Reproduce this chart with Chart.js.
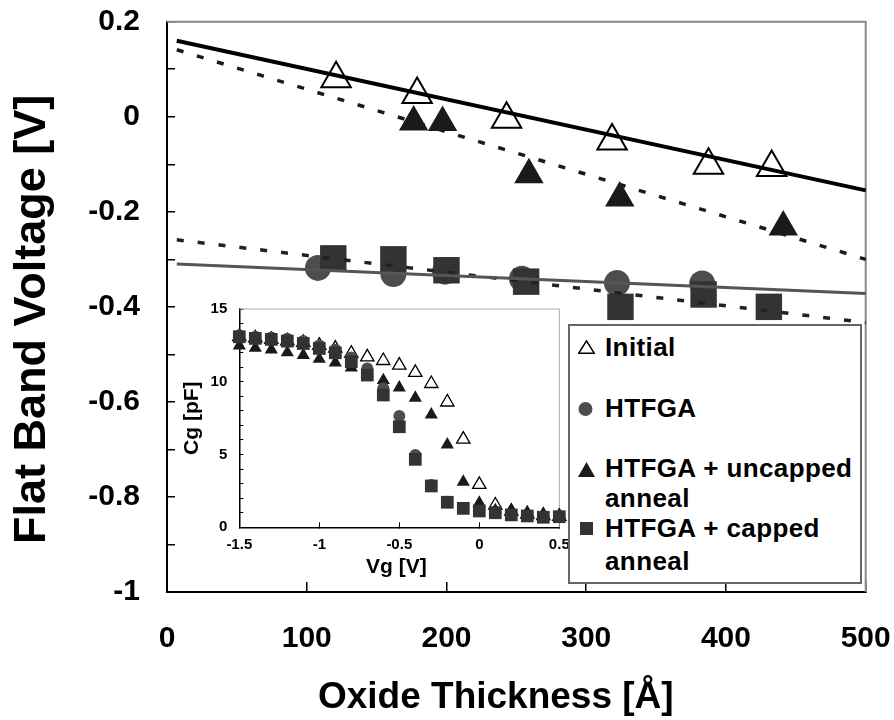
<!DOCTYPE html>
<html>
<head>
<meta charset="utf-8">
<script src="https://cdn.jsdelivr.net/npm/chart.js@4.4.1/dist/chart.umd.min.js"></script>
<style>
html,body{margin:0;padding:0;background:#fff;}
#wrap{position:relative;width:894px;height:720px;overflow:hidden;font-family:"Liberation Sans",Arial,sans-serif;}
#main{position:absolute;left:0;top:0;}
#inset{position:absolute;left:175px;top:295px;}
#legend{position:absolute;left:568px;top:324px;width:290px;height:256px;border:2px solid #666;background:#fff;}
.lt{position:absolute;left:35px;font-weight:bold;font-size:26px;line-height:26px;white-space:nowrap;color:#000;letter-spacing:0.4px;}
.ls{position:absolute;display:block;}
</style>
</head>
<body>
<div id="wrap">
  <canvas id="main" width="894" height="720"></canvas>
  <canvas id="inset" width="395" height="295"></canvas>
  <div id="legend">
    <svg class="ls" style="left:8px;top:14px" width="17" height="14"><polygon points="8.5,0.8 16.2,13.2 0.8,13.2" fill="#fff" stroke="#000" stroke-width="1.5"/></svg>
    <div class="lt" style="top:8px">Initial</div>
    <svg class="ls" style="left:8px;top:76px" width="15" height="14"><circle cx="7.5" cy="7" r="7" fill="#4d4d4d"/></svg>
    <div class="lt" style="top:68.7px">HTFGA</div>
    <svg class="ls" style="left:8px;top:135.7px" width="17" height="15"><polygon points="8.5,0 17,15 0,15" fill="#1a1a1a"/></svg>
    <div class="lt" style="top:128.7px">HTFGA + uncapped</div>
    <div class="lt" style="top:158.7px">anneal</div>
    <svg class="ls" style="left:10px;top:195.5px" width="13" height="13"><rect x="0" y="0" width="13" height="13" fill="#333"/></svg>
    <div class="lt" style="top:188.7px">HTFGA + capped</div>
    <div class="lt" style="top:222px">anneal</div>
  </div>
</div>
<script>
// ---------- main chart data (Oxide thickness [Å] vs flat band voltage [V]) ----------
const thkInitial   = [121, 179, 243, 318.5, 387.5, 432.7];
const vfbInitial   = [0.080, 0.047, -0.005, -0.051, -0.102, -0.107];
const thkUncapped  = [176.5, 197.2, 259, 324, 441];
const vfbUncapped  = [-0.011, -0.012, -0.122, -0.171, -0.232];
const thkHTFGA     = [108, 162, 199, 254, 322, 383];
const vfbHTFGA     = [-0.318, -0.331, -0.326, -0.341, -0.350, -0.351];
const thkCapped    = [119, 162, 200, 257, 324.5, 384, 430.7];
const vfbCapped    = [-0.298, -0.300, -0.323, -0.347, -0.400, -0.374, -0.400];
// trend lines (end points)
const fitInitialX  = [7, 500];
const fitInitialY  = [0.160, -0.155];
const fitUncappedX = [7, 500];
const fitUncappedY = [0.141, -0.300];
const fitHTFGAX    = [7, 500];
const fitHTFGAY    = [-0.310, -0.372];
const fitCappedX   = [7, 500];
const fitCappedY   = [-0.259, -0.433];
const yTickValues  = [0.2, 0, -0.2, -0.4, -0.6, -0.8, -1];
const yTickLabels  = ['0.2', '0', '-0.2', '-0.4', '-0.6', '-0.8', '-1'];

// ---------- inset data (C-V curves) ----------
const vg          = [-1.5, -1.4, -1.3, -1.2, -1.1, -1.0, -0.9, -0.8, -0.7, -0.6, -0.5, -0.4, -0.3, -0.2, -0.1, 0, 0.1, 0.2, 0.3, 0.4, 0.5];
const cgInitial   = [13.1, 13.0, 12.9, 12.8, 12.7, 12.5, 12.3, 11.95, 11.7, 11.45, 11.13, 10.63, 9.87, 8.6, 6.05, 2.94, 1.52, 1.1, 0.9, 0.8, 0.75];
const cgUncapped  = [12.48, 12.32, 12.21, 12.01, 11.83, 11.56, 11.31, 10.97, 10.56, 10.1, 9.6, 8.89, 7.74, 5.68, 3.12, 1.68, 1.17, 1.13, 1.02, 0.92, 0.82];
const cgHTFGA     = [13.2, 13.1, 13.05, 12.95, 12.8, 12.5, 12.2, 11.67, 10.92, 9.55, 7.64, 4.97, 2.9, 1.75, 1.32, 1.13, 1.0, 0.86, 0.78, 0.7, 0.74];
const cgCapped    = [13.09, 12.98, 12.91, 12.79, 12.63, 12.29, 11.99, 11.38, 10.46, 9.09, 6.91, 4.67, 2.84, 1.72, 1.30, 1.12, 1.0, 0.85, 0.78, 0.69, 0.73];
const cgTickValues = [0, 5, 10, 15];
const cgTickLabels = ['0', '5', '10', '15'];
const vgTickValues = [-1.5, -1, -0.5, 0, 0.5];
const vgTickLabels = ['-1.5', '-1', '-0.5', '0', '0.5'];

const FONT = "'Liberation Sans', Arial, Helvetica, sans-serif";
const pts = (xs, ys) => xs.map((x, i) => ({x: x, y: ys[i]}));
const pick = (vals, labels) => v => {
  const i = vals.findIndex(t => Math.abs(t - v) < 1e-6);
  return i >= 0 ? labels[i] : '';
};

const framePlugin = {
  id: 'frame',
  beforeDatasetsDraw(chart, args, opts) {
    const a = chart.chartArea, ctx = chart.ctx;
    ctx.save();
    ctx.strokeStyle = opts.color || '#888';
    ctx.lineWidth = opts.width || 1.5;
    ctx.beginPath();
    ctx.moveTo(a.left, a.top);
    ctx.lineTo(a.right, a.top);
    ctx.lineTo(a.right, a.bottom);
    ctx.stroke();
    ctx.restore();
  }
};

function lineDs(xs, ys, color, width, dash, order) {
  return {data: pts(xs, ys), showLine: true, borderColor: color, borderWidth: width,
          borderDash: dash, pointRadius: 0, pointHoverRadius: 0, order: order, clip: false, fill: false};
}
function markDs(xs, ys, style, r, bg, bc, bw, order) {
  return {data: pts(xs, ys), showLine: false, pointStyle: style, pointRadius: r, pointHoverRadius: r,
          pointBackgroundColor: bg, pointBorderColor: bc, pointBorderWidth: bw,
          backgroundColor: bg, borderColor: bc, borderWidth: bw, order: order, clip: false};
}
function fixX(h) { return s => { s.height = h; s.paddingLeft = 0; s.paddingRight = 0; }; }
function fixY(w) { return s => { s.width = w; s.paddingTop = 0; s.paddingBottom = 0; }; }

new Chart(document.getElementById('main'), {
  type: 'scatter',
  data: {
    datasets: [
      lineDs(fitInitialX, fitInitialY, '#000', 4, [], 0),
      lineDs(fitUncappedX, fitUncappedY, '#1a1a1a', 3.5, [7, 14], 1),
      lineDs(fitHTFGAX, fitHTFGAY, '#555', 3, [], 2),
      lineDs(fitCappedX, fitCappedY, '#222', 3.5, [7, 14], 3),
      markDs(thkCapped, vfbCapped, 'rect', 18.7, '#333', '#333', 0, 4),
      markDs(thkHTFGA, vfbHTFGA, 'circle', 13, '#4d4d4d', '#4d4d4d', 0, 5),
      markDs(thkUncapped, vfbUncapped, 'triangle', 17, '#1a1a1a', '#1a1a1a', 0, 6),
      markDs(thkInitial, vfbInitial, 'triangle', 17, '#fff', '#000', 2, 7)
    ]
  },
  options: {
    responsive: false, animation: false, events: [],
    layout: {padding: {left: 0, right: 28.3, top: 21.7, bottom: 0}},
    plugins: {legend: {display: false}, tooltip: {enabled: false}, frame: {color: '#888', width: 2}},
    scales: {
      x: {
        type: 'linear', min: 0, max: 500,
        ticks: {stepSize: 100, color: '#000', font: {family: FONT, size: 30, weight: 'bold'}, padding: 39, maxRotation: 0, autoSkip: false},
        grid: {drawOnChartArea: false, drawTicks: true, tickLength: -10, color: '#000', lineWidth: 1.5},
        border: {display: true, color: '#000', width: 2},
        title: {display: true, text: 'Oxide Thickness [Å]\u00a0\u00a0\u00a0\u00a0', color: '#000', font: {family: FONT, size: 37, weight: 'bold'}, padding: {top: 0, bottom: 0}},
        afterFit: fixX(128)
      },
      y: {
        type: 'linear', min: -1, max: 0.2,
        ticks: {stepSize: 0.1, autoSkip: false, color: '#000', font: {family: FONT, size: 30, weight: 'bold'}, padding: 35,
          callback: pick(yTickValues, yTickLabels)},
        grid: {drawOnChartArea: false, drawTicks: true, tickLength: -8, color: '#000', lineWidth: 1.5},
        border: {display: true, color: '#000', width: 2},
        title: {display: true, text: 'Flat Band Voltage [V]\u00a0\u00a0', color: '#000', font: {family: FONT, size: 45, weight: 'bold'}, padding: {top: 6, bottom: 0}},
        afterFit: fixY(167)
      }
    }
  },
  plugins: [framePlugin]
});

new Chart(document.getElementById('inset'), {
  type: 'scatter',
  data: {
    datasets: [
      markDs(vg, cgCapped, 'rect', 9, '#333', '#333', 0, 0),
      markDs(vg, cgHTFGA, 'circle', 6, '#4d4d4d', '#4d4d4d', 0, 1),
      markDs(vg, cgUncapped, 'triangle', 7.6, '#1a1a1a', '#1a1a1a', 0, 2),
      markDs(vg, cgInitial, 'triangle', 7.7, '#fff', '#000', 1.3, 3)
    ]
  },
  options: {
    responsive: false, animation: false, events: [],
    layout: {padding: {left: 0, right: 10.7, top: 14, bottom: 0}},
    plugins: {legend: {display: false}, tooltip: {enabled: false}, frame: {color: '#aaa', width: 1}},
    scales: {
      x: {
        type: 'linear', min: -1.5, max: 0.5,
        ticks: {stepSize: 0.5, color: '#000', font: {family: FONT, size: 15, weight: 'bold'}, padding: 14, maxRotation: 0, autoSkip: false,
          callback: pick(vgTickValues, vgTickLabels)},
        grid: {drawOnChartArea: false, drawTicks: true, tickLength: -5, color: '#000', lineWidth: 1},
        border: {display: true, color: '#000', width: 1.5},
        title: {display: true, text: 'Vg [V]\u00a0', color: '#000', font: {family: FONT, size: 21, weight: 'bold'}, padding: {top: 0, bottom: 10.4}},
        afterFit: fixX(62.7)
      },
      y: {
        type: 'linear', min: 0, max: 15,
        ticks: {stepSize: 1, autoSkip: false, color: '#000', font: {family: FONT, size: 15, weight: 'bold'}, padding: 16,
          callback: pick(cgTickValues, cgTickLabels)},
        grid: {drawOnChartArea: false, drawTicks: true, tickLength: -4, color: '#000', lineWidth: 1},
        border: {display: true, color: '#000', width: 1.5},
        title: {display: true, text: 'Cg [pF]', color: '#000', font: {family: FONT, size: 21, weight: 'bold'}, padding: {top: 4.4, bottom: 0}},
        afterFit: fixY(64.3)
      }
    }
  },
  plugins: [framePlugin]
});
</script>
</body>
</html>
